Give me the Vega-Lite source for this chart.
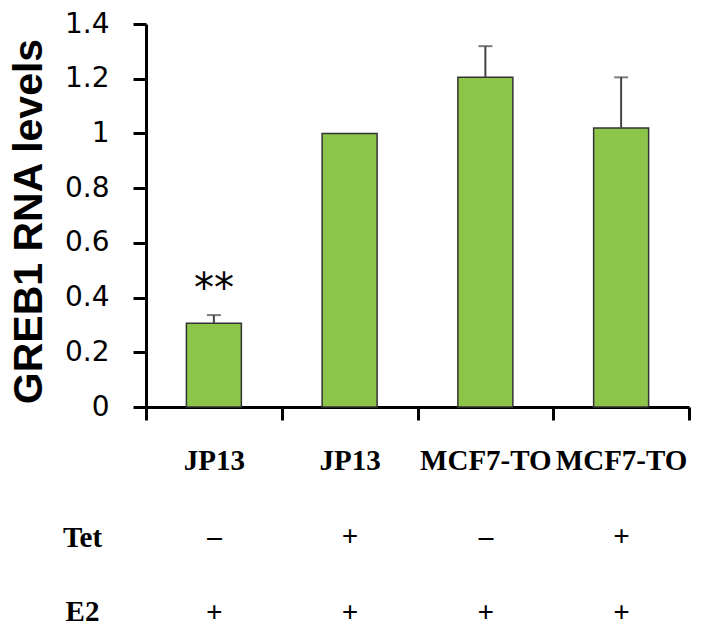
{
  "$schema": "https://vega.github.io/schema/vega-lite/v6.json",
  "width": 543,
  "height": 383,
  "autosize": {"type": "none"},
  "padding": {"left": 146, "top": 24, "right": 18, "bottom": 221},
  "background": "white",
  "config": {"view": {"stroke": null}},
  "data": {
    "values": [
      {"label": "JP13|–|+", "value": 0.306, "upper": 0.336, "sig": "**"},
      {"label": "JP13|+|+", "value": 1.0, "upper": 1.0, "sig": ""},
      {"label": "MCF7-TO|–|+", "value": 1.205, "upper": 1.319, "sig": ""},
      {"label": "MCF7-TO|+|+", "value": 1.02, "upper": 1.205, "sig": ""}
    ]
  },
  "encoding": {
    "x": {
      "field": "label",
      "type": "nominal",
      "sort": null,
      "scale": {"paddingInner": 0, "paddingOuter": 0},
      "axis": {
        "title": ["Tet", "E2"],
        "labelAngle": 0,
        "labelExpr": "split(datum.label, '|')",
        "labelFont": "Liberation Serif",
        "labelFontWeight": "bold",
        "labelFontSize": 29,
        "labelColor": "black",
        "labelLineHeight": 76,
        "labelBaseline": "top",
        "labelPadding": 26,
        "tickBand": "extent",
        "tickSize": 13,
        "tickWidth": 3,
        "tickColor": "black",
        "domainColor": "black",
        "domainWidth": 3,
        "grid": false,
        "titleFont": "Liberation Serif",
        "titleFontSize": 29,
        "titleFontWeight": "bold",
        "titleColor": "black",
        "titleLineHeight": 74,
        "titleX": -64,
        "titleY": 116,
        "titleAlign": "center",
        "titleBaseline": "top",
        "titleAnchor": null
      }
    },
    "y": {
      "field": "value",
      "type": "quantitative",
      "title": "GREB1 RNA levels",
      "scale": {"domain": [0, 1.4], "nice": false, "zero": true},
      "axis": {
        "values": [0, 0.2, 0.4, 0.6, 0.8, 1, 1.2, 1.4],
        "labelExpr": "format(datum.value, '~g')",
        "labelFont": "DejaVu Sans",
        "labelFontSize": 28,
        "labelColor": "black",
        "labelPadding": 24,
        "tickSize": 13,
        "tickWidth": 3,
        "tickColor": "black",
        "domainColor": "black",
        "domainWidth": 3,
        "grid": false,
        "titleFont": "Liberation Sans",
        "titleFontSize": 41,
        "titleFontWeight": "bold",
        "titleColor": "black",
        "titleAngle": -90,
        "titleX": -117,
        "titleY": 197,
        "titleAlign": "center",
        "titleBaseline": "middle"
      }
    }
  },
  "layer": [
    {
      "mark": {"type": "bar", "color": "#8DC54B", "stroke": "#333333", "strokeWidth": 1.5, "width": {"band": 0.405}}
    },
    {
      "transform": [{"filter": "datum.upper > datum.value"}],
      "mark": {"type": "rule", "color": "#444444", "strokeWidth": 2},
      "encoding": {"y2": {"field": "upper"}}
    },
    {
      "transform": [{"filter": "datum.upper > datum.value"}],
      "mark": {"type": "tick", "color": "#444444", "thickness": 2, "size": 14, "orient": "horizontal"},
      "encoding": {"y": {"field": "upper", "type": "quantitative", "title": "GREB1 RNA levels"}}
    },
    {
      "mark": {"type": "text", "font": "DejaVu Sans", "fontSize": 40, "dy": -13, "baseline": "alphabetic", "color": "black"},
      "encoding": {
        "y": {"field": "upper", "type": "quantitative", "title": "GREB1 RNA levels"},
        "text": {"field": "sig"}
      }
    }
  ]
}
